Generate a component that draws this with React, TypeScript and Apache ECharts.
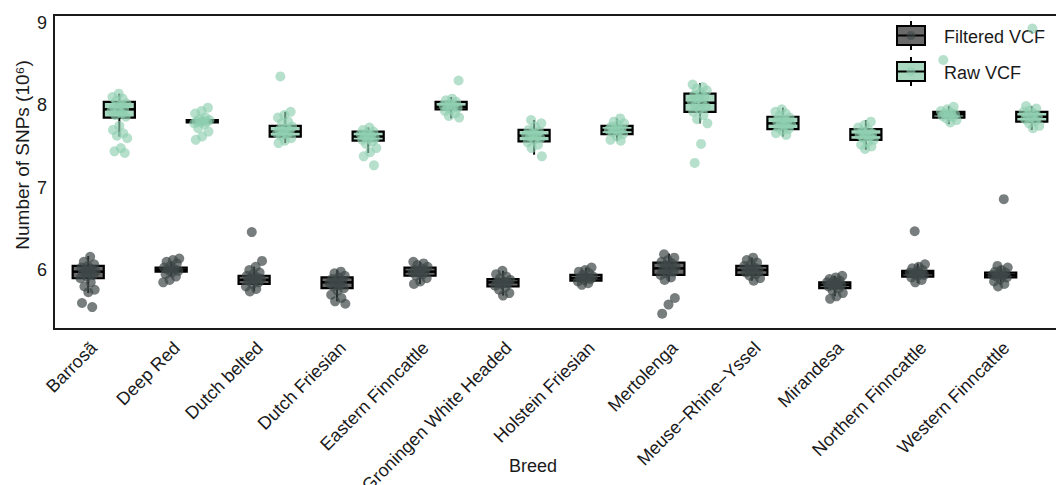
import React, { useEffect, useRef } from "react";
import * as echarts from "echarts";

const breeds = [
  "Barrosã",
  "Deep Red",
  "Dutch belted",
  "Dutch Friesian",
  "Eastern Finncattle",
  "Groningen White Headed",
  "Holstein Friesian",
  "Mertolenga",
  "Meuse−Rhine−Yssel",
  "Mirandesa",
  "Northern Finncattle",
  "Western Finncattle",
];

// [lower whisker, Q1, median, Q3, upper whisker] (10^6 SNPs)
const filteredStats = [
  [5.72, 5.9, 5.98, 6.05, 6.17],
  [5.92, 5.98, 6.0, 6.03, 6.1],
  [5.74, 5.83, 5.88, 5.93, 6.04],
  [5.62, 5.78, 5.85, 5.91, 6.0],
  [5.83, 5.93, 5.98, 6.03, 6.1],
  [5.69, 5.8, 5.85, 5.89, 5.99],
  [5.82, 5.87, 5.9, 5.94, 6.03],
  [5.86, 5.94, 6.02, 6.09, 6.2],
  [5.87, 5.94, 6.0, 6.05, 6.15],
  [5.68, 5.78, 5.82, 5.85, 5.93],
  [5.84, 5.92, 5.96, 5.99, 6.08],
  [5.82, 5.91, 5.94, 5.97, 6.05],
];

const rawStats = [
  [7.62, 7.85, 7.95, 8.04, 8.14],
  [7.76, 7.79, 7.8, 7.82, 7.85],
  [7.54, 7.62, 7.68, 7.75, 7.92],
  [7.42, 7.57, 7.62, 7.68, 7.73],
  [7.84, 7.95, 7.98, 8.04, 8.1],
  [7.4, 7.56, 7.63, 7.7, 7.82],
  [7.57, 7.65, 7.7, 7.75, 7.84],
  [7.78, 7.92, 8.03, 8.14, 8.27],
  [7.62, 7.71, 7.78, 7.86, 7.97],
  [7.46, 7.58, 7.64, 7.71, 7.82],
  [7.77, 7.85, 7.89, 7.92, 7.99],
  [7.7, 7.8, 7.86, 7.92, 7.99],
];

const filteredPoints = [
  [6.16, 6.1, 6.07, 6.05, 6.03, 6.01, 6.0, 5.98, 5.97, 5.96, 5.94, 5.92, 5.9, 5.85, 5.8, 5.76, 5.73, 5.6, 5.55],
  [6.14, 6.12, 6.1, 6.08, 6.05, 6.03, 6.01, 6.0, 5.99, 5.97, 5.95, 5.92, 5.88, 5.85],
  [6.46, 6.11, 6.04, 6.0, 5.97, 5.95, 5.93, 5.91, 5.9, 5.89, 5.88, 5.87, 5.85, 5.83, 5.8, 5.77, 5.74],
  [5.98, 5.96, 5.93, 5.91, 5.89, 5.87, 5.85, 5.84, 5.82, 5.8, 5.78, 5.75, 5.7, 5.66, 5.62, 5.59],
  [6.1, 6.08, 6.06, 6.04, 6.02, 6.0, 5.99, 5.98, 5.97, 5.95, 5.93, 5.9, 5.86, 5.83],
  [5.99, 5.95, 5.92, 5.9, 5.88, 5.86, 5.85, 5.84, 5.83, 5.81, 5.79, 5.76, 5.72, 5.69],
  [6.03, 6.0, 5.98, 5.96, 5.94, 5.92, 5.91, 5.9, 5.89, 5.88, 5.86, 5.84, 5.82],
  [6.19, 6.15, 6.12, 6.1, 6.08, 6.06, 6.04, 6.02, 6.0, 5.98, 5.96, 5.94, 5.91, 5.88, 5.66, 5.58, 5.47],
  [6.15, 6.12, 6.09, 6.07, 6.05, 6.03, 6.01, 6.0, 5.99, 5.97, 5.95, 5.93, 5.9, 5.87],
  [5.93, 5.91, 5.89, 5.87, 5.86, 5.85, 5.84, 5.83, 5.82, 5.81, 5.8, 5.78, 5.75, 5.72, 5.68, 5.65],
  [6.47, 6.07, 6.04, 6.02, 6.0, 5.98, 5.97, 5.96, 5.95, 5.94, 5.93, 5.91, 5.88, 5.85],
  [6.86, 6.05, 6.03, 6.0, 5.98, 5.97, 5.95, 5.94, 5.93, 5.92, 5.91, 5.89, 5.86, 5.83, 5.8],
];

const rawPoints = [
  [8.14, 8.1, 8.08, 8.05, 8.02, 8.0, 7.98, 7.96, 7.95, 7.93, 7.9, 7.88, 7.86, 7.75, 7.7, 7.66, 7.63, 7.6, 7.48, 7.44, 7.42],
  [7.97, 7.93, 7.9, 7.85, 7.83, 7.82, 7.81, 7.8, 7.8, 7.79, 7.78, 7.77, 7.72, 7.68, 7.62, 7.58],
  [8.35, 7.92, 7.88, 7.85, 7.8, 7.78, 7.74, 7.72, 7.7, 7.69, 7.68, 7.66, 7.65, 7.63, 7.6, 7.57, 7.54],
  [7.73, 7.7, 7.68, 7.66, 7.65, 7.63, 7.62, 7.6, 7.59, 7.58, 7.56, 7.53, 7.48, 7.43, 7.38, 7.27],
  [8.3, 8.08, 8.06, 8.04, 8.02, 8.0, 7.99, 7.98, 7.97, 7.95, 7.93, 7.9, 7.87, 7.85],
  [7.82, 7.78, 7.74, 7.7, 7.68, 7.66, 7.64, 7.63, 7.62, 7.6, 7.58, 7.55, 7.52, 7.48, 7.38],
  [7.84, 7.8, 7.78, 7.76, 7.74, 7.72, 7.71, 7.7, 7.69, 7.67, 7.65, 7.62, 7.58, 7.57],
  [8.25, 8.22, 8.2, 8.18, 8.15, 8.12, 8.1, 8.08, 8.05, 8.03, 8.0, 7.98, 7.95, 7.92, 7.88, 7.83, 7.78, 7.53, 7.3],
  [7.95, 7.92, 7.9, 7.87, 7.85, 7.83, 7.81, 7.8, 7.78, 7.77, 7.75, 7.73, 7.71, 7.69, 7.66, 7.64],
  [7.8, 7.76, 7.73, 7.7, 7.68, 7.66, 7.65, 7.64, 7.62, 7.6, 7.58, 7.55, 7.52, 7.5, 7.47],
  [8.55, 7.98, 7.95, 7.93, 7.91, 7.9, 7.89, 7.88, 7.87, 7.86, 7.84, 7.82, 7.79],
  [8.93, 7.99, 7.96, 7.94, 7.92, 7.9, 7.88, 7.86, 7.85, 7.83, 7.81, 7.78, 7.75, 7.72],
];

const yTicks = [6, 7, 8, 9];

const DODGE = 0.1875;
const BOX_W = 0.375;
const JITTER = 0.1;
const FONT = "'Liberation Sans', Arial, Helvetica, 'DejaVu Sans', sans-serif";

const COL_F_POINT = "#3f4747";
const COL_R_POINT = "#8fcfb0";
const COL_F_FILL = "#6a6a6a";
const COL_R_FILL = "#a8d8c0";

function jitterOffset(k: number, g: number) {
  const f = ((k + 1) * 0.6180339887 + g * 0.37) % 1;
  return (f - 0.5) * 2 * JITTER;
}

function boxRender(offset: number, fill: string) {
  return (params: any, api: any) => {
    const i = api.value(0);
    const x = i + offset;
    const low = api.coord([x, api.value(1)]);
    const q1 = api.coord([x, api.value(2)]);
    const med = api.coord([x, api.value(3)]);
    const q3 = api.coord([x, api.value(4)]);
    const high = api.coord([x, api.value(5)]);
    const w = api.size([BOX_W, 0])[0];
    const cx = low[0];
    const ln = { stroke: "#000", lineWidth: 2 };
    return {
      type: "group",
      children: [
        { type: "line", shape: { x1: cx, y1: high[1], x2: cx, y2: q3[1] }, style: ln },
        { type: "line", shape: { x1: cx, y1: q1[1], x2: cx, y2: low[1] }, style: ln },
        {
          type: "rect",
          shape: { x: cx - w / 2, y: q3[1], width: w, height: q1[1] - q3[1] },
          style: { fill, stroke: "#000", lineWidth: 2.2 },
        },
        {
          type: "line",
          shape: { x1: cx - w / 2, y1: med[1], x2: cx + w / 2, y2: med[1] },
          style: { stroke: "#000", lineWidth: 2.5 },
        },
      ],
    };
  };
}

function legendItem(y: number, label: string, fill: string, dot: string) {
  const x = 897;
  const w = 28;
  const cx = x + w / 2;
  return [
    { type: "line", shape: { x1: cx, y1: y - 5, x2: cx, y2: y + 24 }, style: { stroke: "#000", lineWidth: 2 } },
    { type: "rect", shape: { x, y, width: w, height: 19 }, style: { fill, stroke: "#000", lineWidth: 2 } },
    { type: "line", shape: { x1: x, y1: y + 9.5, x2: x + w, y2: y + 9.5 }, style: { stroke: "#000", lineWidth: 2 } },
    { type: "circle", shape: { cx, cy: y + 9.5, r: 4.5 }, style: { fill: dot, opacity: 0.6 } },
    {
      type: "text",
      style: { x: 944, y: y + 11, text: label, fill: "#1a1a1a", font: `18px ${FONT}`, verticalAlign: "middle" },
    },
  ];
}

export default function App() {
  const ref = useRef<HTMLDivElement>(null);
  useEffect(() => {
    document.body.style.margin = "0";
    if (!ref.current) return;
    const chart = echarts.init(ref.current, null, { renderer: "svg" });

    const fPts: number[][] = [];
    const rPts: number[][] = [];
    filteredPoints.forEach((arr, i) =>
      arr.forEach((v, k) => fPts.push([i - DODGE + jitterOffset(k, i), v]))
    );
    rawPoints.forEach((arr, i) =>
      arr.forEach((v, k) => rPts.push([i + DODGE + jitterOffset(k, i + 5), v]))
    );

    chart.setOption({
      animation: false,
      backgroundColor: "#fff",
      textStyle: { fontFamily: FONT },
      grid: {
        left: 54,
        top: 15,
        width: 1012,
        height: 314,
        outerBoundsMode: "none",
        containLabel: false,
        show: true,
        borderColor: "#1a1a1a",
        borderWidth: 2,
        backgroundColor: "transparent",
      },
      xAxis: {
        type: "value",
        min: -0.6,
        max: 11.6,
        axisLine: { show: false },
        axisTick: { show: false },
        splitLine: { show: false },
        axisLabel: {
          customValues: breeds.map((_, i) => i),
          formatter: (v: number) => breeds[Math.round(v)] ?? "",
          rotate: 45,
          fontSize: 18,
          color: "#1a1a1a",
          margin: 6,
          padding: [0, 14, 32, 0],
          fontFamily: FONT,
        },
        name: "Breed",
        nameLocation: "middle",
        nameGap: 128,
        nameMoveOverlap: false,
        nameTextStyle: { fontSize: 18, color: "#1a1a1a", fontFamily: FONT, padding: [0, 54, 0, 0] },
      },
      yAxis: {
        type: "value",
        min: 5.284,
        max: 9.095,
        axisLine: { show: false },
        axisTick: { show: false },
        splitLine: { show: false },
        axisLabel: {
          customValues: yTicks,
          fontSize: 18,
          color: "#1a1a1a",
          margin: 7,
          fontFamily: FONT,
        },
        name: "Number of SNPs (10⁶)",
        nameLocation: "middle",
        nameGap: 22,
        nameRotate: 90,
        nameMoveOverlap: false,
        nameTextStyle: { fontSize: 19, color: "#1a1a1a", fontFamily: FONT, padding: [0, 0, 0, 34] },
      },
      series: [
        {
          name: "Filtered VCF",
          type: "custom",
          renderItem: boxRender(-DODGE, COL_F_FILL),
          encode: { x: 0, y: 3 },
          data: filteredStats.map((s, i) => [i, ...s]),
          z: 2,
        },
        {
          name: "Raw VCF",
          type: "custom",
          renderItem: boxRender(DODGE, COL_R_FILL),
          encode: { x: 0, y: 3 },
          data: rawStats.map((s, i) => [i, ...s]),
          z: 2,
        },
        {
          name: "Filtered VCF points",
          type: "scatter",
          symbolSize: 10,
          itemStyle: { color: COL_F_POINT, opacity: 0.7 },
          data: fPts,
          z: 3,
        },
        {
          name: "Raw VCF points",
          type: "scatter",
          symbolSize: 10,
          itemStyle: { color: COL_R_POINT, opacity: 0.65 },
          data: rPts,
          z: 3,
        },
      ],
      graphic: [
        ...legendItem(26, "Filtered VCF", COL_F_FILL, COL_F_POINT),
        ...legendItem(62, "Raw VCF", COL_R_FILL, COL_R_POINT),
      ],
    });
    return () => chart.dispose();
  }, []);
  return <div ref={ref} style={{ width: 1056, height: 485 }} />;
}
